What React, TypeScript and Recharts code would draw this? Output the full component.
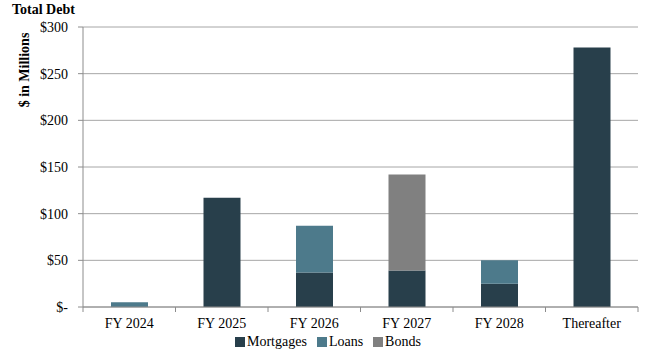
import React from "react";
import { Bar, BarChart, CartesianGrid, XAxis, YAxis } from "recharts";

const years = ["FY 2024", "FY 2025", "FY 2026", "FY 2027", "FY 2028", "Thereafter"];
const mortgages = [0, 117, 37, 39, 25, 278];
const loans = [5, 0, 50, 0, 25, 0];
const bonds = [0, 0, 0, 103, 0, 0];
const yTicks = [0, 50, 100, 150, 200, 250, 300];

const series = [
  { key: "mortgages", name: "Mortgages", color: "#283f4b" },
  { key: "loans", name: "Loans", color: "#4d7a8b" },
  { key: "bonds", name: "Bonds", color: "#808080" },
];

const data = years.map((year, i) => ({
  year,
  mortgages: mortgages[i],
  loans: loans[i],
  bonds: bonds[i],
}));

const W = 670;
const H = 352;
const X_AXIS_H = 30;
const M = { top: 27, right: 32, bottom: 45 - X_AXIS_H, left: 0 };
const Y_AXIS_W = 83;
const BAND = (W - Y_AXIS_W - M.left - M.right) / years.length;
const AXIS_Y = H - 45;
const FONT = "'Liberation Serif', 'Times New Roman', serif";
const AXIS_GRAY = "#8c8c8c";

function YearTick(props: any) {
  const { x, payload, index } = props;
  return (
    <g>
      <line x1={x - BAND / 2} x2={x - BAND / 2} y1={AXIS_Y} y2={AXIS_Y + 5} stroke={AXIS_GRAY} />
      {index === years.length - 1 && (
        <line x1={x + BAND / 2} x2={x + BAND / 2} y1={AXIS_Y} y2={AXIS_Y + 5} stroke={AXIS_GRAY} />
      )}
      <text x={x} y={AXIS_Y + 21} textAnchor="middle" fill="#000" fontSize={14} fontFamily={FONT}>
        {payload.value}
      </text>
    </g>
  );
}

function DebtLegend() {
  return (
    <div
      style={{
        position: "absolute",
        left: 235,
        top: 334,
        display: "flex",
        gap: 10,
        fontFamily: FONT,
        fontSize: 14,
        lineHeight: "16px",
        color: "#000",
      }}
    >
      {series.map((s) => (
        <span key={s.key} style={{ display: "flex", alignItems: "center", gap: 2 }}>
          <span style={{ display: "inline-block", width: 10, height: 10, background: s.color }} />
          {s.name}
        </span>
      ))}
    </div>
  );
}

export default function App() {
  return (
    <div style={{ position: "relative", width: W, height: H, background: "#fff" }}>
      <style>{"body{margin:0}"}</style>
      <div
        style={{
          position: "absolute",
          left: 12,
          top: 2,
          fontFamily: FONT,
          fontWeight: "bold",
          fontSize: 14,
          lineHeight: "16px",
        }}
      >
        Total Debt
      </div>
      <div
        style={{
          position: "absolute",
          left: 25,
          top: 70,
          transform: "translate(-50%, -50%) rotate(-90deg)",
          fontFamily: FONT,
          fontWeight: "bold",
          fontSize: 14,
          whiteSpace: "nowrap",
        }}
      >
        $ in Millions
      </div>
      <BarChart width={W} height={H} data={data} margin={M} barSize={37}>
        <CartesianGrid vertical={false} stroke="#a6a6a6" />
        <XAxis
          dataKey="year"
          height={X_AXIS_H}
          tick={<YearTick />}
          tickLine={false}
          axisLine={{ stroke: AXIS_GRAY }}
          interval={0}
        />
        <YAxis
          width={Y_AXIS_W}
          domain={[0, 300]}
          ticks={yTicks}
          tickSize={5}
          tickMargin={10}
          tickLine={{ stroke: AXIS_GRAY }}
          axisLine={{ stroke: AXIS_GRAY }}
          tick={{ fill: "#000", fontSize: 14, fontFamily: FONT }}
          tickFormatter={(v: number) => (v === 0 ? "$-" : `$${v}`)}
        />
        {series.map((s) => (
          <Bar
            key={s.key}
            dataKey={s.key}
            name={s.name}
            stackId="debt"
            fill={s.color}
            isAnimationActive={false}
          />
        ))}
      </BarChart>
      <DebtLegend />
    </div>
  );
}
